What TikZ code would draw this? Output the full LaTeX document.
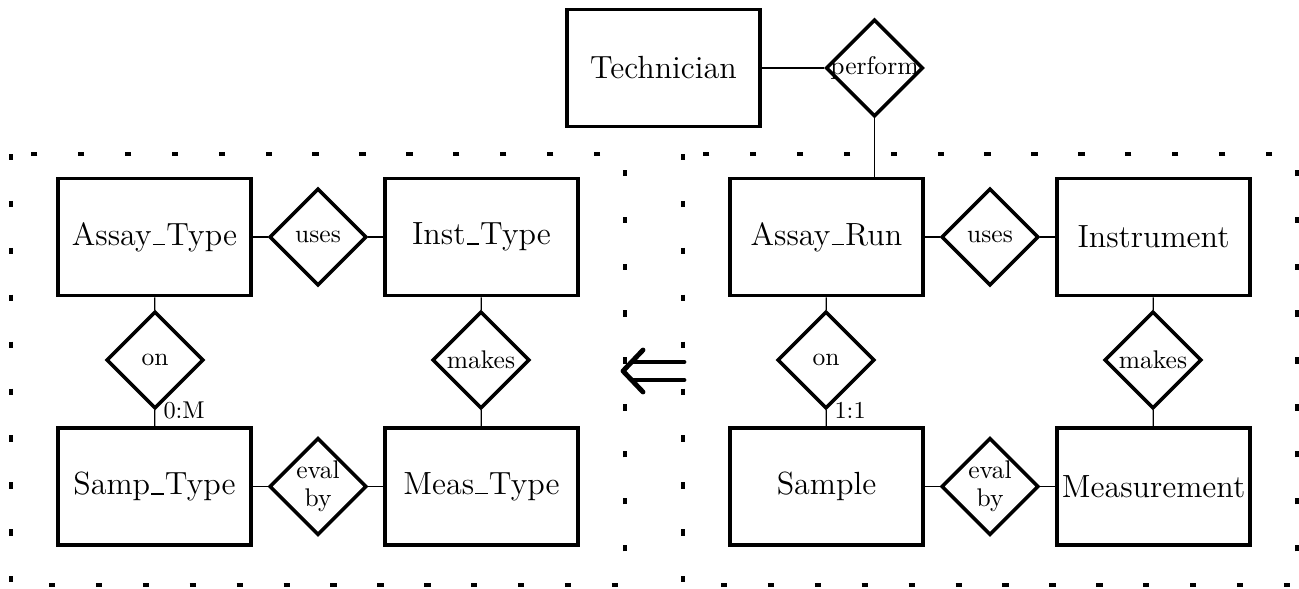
\documentclass[tikz,border=0pt]{standalone}
\usetikzlibrary{shapes.geometric}
\newcommand{\ubar}{\kern0.04em\rule{0.38em}{0.045em}\kern0.04em}
\begin{document}
\begin{tikzpicture}[x=0.4115pt,y=-0.4115pt,
	ent/.style={draw,line width=1.5pt,minimum width=79.4pt,minimum height=48.2pt,inner sep=0pt,font=\fontsize{13.2}{15}\selectfont},
	rel/.style={draw,diamond,line width=1.45pt,minimum size=40pt,inner sep=0pt,align=center,font=\fontsize{10.5}{11.5}\selectfont},
	conn/.style={line width=0.5pt},
	panel/.style={line width=1.6pt,dash pattern=on 2.6pt off 16.7pt},
	card/.style={right,font=\fontsize{10}{12}\selectfont},
	impl/.style={line width=2pt,line cap=round,line join=round}]
	\useasboundingbox (0,0) rectangle (1299,588);
	% frames
	\draw[panel] (11,154) rectangle (625,585);
	\draw[panel] (683,154) rectangle (1297,585);
	% type level
	\node[ent] (atype) at (154.5,237) {Assay\ubar Type};
	\node[rel] (usesL) at (318,237) {uses};
	\node[ent] (itype) at (481.5,237) {Inst\ubar Type};
	\node[rel] (onL) at (155,360) {on};
	\node[rel] (makesL) at (481,360) {makes};
	\node[ent] (stype) at (154.5,486.5) {Samp\ubar Type};
	\node[rel] (evalL) at (318,486.5) {eval\\by};
	\node[ent] (mtype) at (481.5,486.5) {Meas\ubar Type};
	% instance level
	\node[ent] (run) at (826.5,237) {Assay\ubar Run};
	\node[rel] (usesR) at (990,237) {uses};
	\node[ent] (instr) at (1153.5,237) {Instrument};
	\node[rel] (onR) at (826,360) {on};
	\node[rel] (makesR) at (1153,360) {makes};
	\node[ent] (samp) at (826.5,486.5) {Sample};
	\node[rel] (evalR) at (990,486.5) {eval\\by};
	\node[ent] (meas) at (1153.5,486.5) {Measurement};
	\node[ent] (tech) at (663.5,68) {Technician};
	\node[rel] (perf) at (874.5,68) {\makebox[0pt]{perform}};
	% implication arrow
	\draw[impl] (643,350) -- (623,371) -- (643,392);
	\draw[impl] (634,362) -- (684,362) (634,380) -- (684,380);
	% connectors
	\draw[conn] (atype) -- (usesL) -- (itype);
	\draw[conn] (atype) -- (onL) -- (stype);
	\draw[conn] (itype) -- (makesL) -- (mtype);
	\draw[conn] (stype) -- (evalL) -- (mtype);
	\draw[conn] (run) -- (usesR) -- (instr);
	\draw[conn] (run) -- (onR) -- (samp);
	\draw[conn] (instr) -- (makesR) -- (meas);
	\draw[conn] (samp) -- (evalR) -- (meas);
	\draw[conn] (tech) -- (perf);
	\draw[conn] (perf.south) -- (perf.south |- run.north);
	\node[card] (cardL) at (onL.south) {0:M};
	\node[card] (cardR) at (onR.south) {1:1};
\end{tikzpicture}
\end{document}
